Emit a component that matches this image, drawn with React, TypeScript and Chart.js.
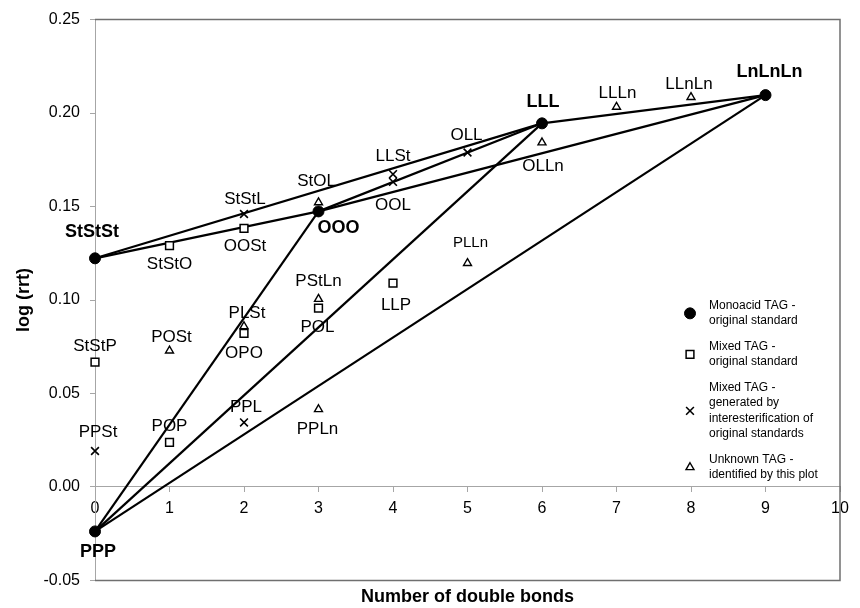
import { useEffect, useRef } from 'react';
import { Chart, registerables } from 'chart.js';
import { drawPoint } from 'chart.js/helpers';

Chart.register(...registerables);

// ---------- DATA ----------
const monoNames = ['PPP', 'StStSt', 'OOO', 'LLL', 'LnLnLn'];
const monoX = [0, 0, 3, 6, 9];
const monoY = [-0.0238, 0.1223, 0.1474, 0.1945, 0.2096];

const mixedNames = ['StStP', 'StStO', 'OOSt', 'POP', 'OPO', 'POL', 'LLP'];
const mixedX = [0, 1, 2, 1, 2, 3, 4];
const mixedY = [0.0668, 0.1291, 0.1383, 0.0238, 0.0822, 0.0957, 0.109];

const interNames = ['PPSt', 'StStL', 'PPL', 'LLSt', 'OOL', 'OLL'];
const interX = [0, 2, 2, 4, 4, 5];
const interY = [0.0192, 0.146, 0.0345, 0.1673, 0.1632, 0.1789];

const unknownNames = ['POSt', 'PLSt', 'StOL', 'PStLn', 'PPLn', 'PLLn', 'OLLn', 'LLLn', 'LLnLn'];
const unknownX = [1, 2, 3, 3, 3, 5, 6, 7, 8];
const unknownY = [0.0729, 0.0859, 0.1522, 0.1005, 0.0415, 0.1197, 0.1842, 0.2033, 0.2085];

const tieLines: [string, string][] = [
  ['StStSt', 'LLL'],
  ['StStSt', 'OOO'],
  ['OOO', 'LLL'],
  ['OOO', 'LnLnLn'],
  ['LLL', 'LnLnLn'],
  ['PPP', 'OOO'],
  ['PPP', 'LLL'],
  ['PPP', 'LnLnLn'],
];

const xTickMin = 0;
const xTickMax = 10;
const yTickMin = -0.05;
const yTickMax = 0.25;
const yTickStep = 0.05;

const xTitle = 'Number of double bonds';
const yTitle = 'log (rrt)';

const legendTexts = [
  ['Monoacid TAG -', 'original standard'],
  ['Mixed TAG -', 'original standard'],
  ['Mixed TAG -', 'generated by', 'interesterification of', 'original standards'],
  ['Unknown TAG -', 'identified by this plot'],
];

// ---------- LABEL PLACEMENT (pixel offsets from point) ----------
const labelOffsets: Record<string, [number, number]> = {
  PPP: [3, 21],
  StStSt: [-3, -26],
  OOO: [20, 17],
  LLL: [1, -21],
  LnLnLn: [4, -23],
  StStP: [0, -16],
  StStO: [0, 19],
  OOSt: [1, 18],
  POP: [0, -16],
  OPO: [0, 20],
  POL: [-1, 19],
  LLP: [3, 22],
  PPSt: [3, -19],
  StStL: [1, -15],
  PPL: [2, -15],
  LLSt: [0, -18],
  OOL: [0, 23],
  OLL: [-1, -17],
  POSt: [2, -13],
  PLSt: [3, -13],
  StOL: [-2, -21],
  PStLn: [0, -18],
  PPLn: [-1, 20],
  PLLn: [3, -20],
  OLLn: [1, 24],
  LLLn: [1, -14],
  LLnLn: [-2, -13],
};

const FONT = '"Liberation Sans", Arial, Helvetica, sans-serif';

const toPoints = (names: string[], xs: number[], ys: number[]) =>
  names.map((n, i) => ({ x: xs[i], y: ys[i], name: n }));

const monoPts = toPoints(monoNames, monoX, monoY);
const mixedPts = toPoints(mixedNames, mixedX, mixedY);
const interPts = toPoints(interNames, interX, interY);
const unknownPts = toPoints(unknownNames, unknownX, unknownY);

const findMono = (n: string) => monoPts.find((p) => p.name === n)!;

const markerStyles = [
  { pointStyle: 'circle', radius: 5.5, borderWidth: 1, fill: '#000' },
  { pointStyle: 'rect', radius: 5.5, borderWidth: 1.5, fill: '#fff' },
  { pointStyle: 'crossRot', radius: 5.5, borderWidth: 1.6, fill: '#fff' },
  { pointStyle: 'triangle', radius: 4.6, borderWidth: 1.4, fill: '#fff' },
];

const pointLabelPlugin = {
  id: 'pointLabels',
  afterDatasetsDraw(chart: any) {
    const { ctx } = chart;
    const xs = chart.scales.x;
    const ys = chart.scales.y;
    ctx.save();
    ctx.fillStyle = '#000';
    ctx.textAlign = 'center';
    ctx.textBaseline = 'middle';
    chart.data.datasets.forEach((ds: any) => {
      if (!ds.isMarkers) return;
      ds.data.forEach((p: any) => {
        const off = labelOffsets[p.name] || [0, -15];
        const bold = ds.boldLabels;
        const size = bold ? 18 : p.name === 'PLLn' ? 15 : 17;
        ctx.font = `${bold ? 'bold ' : ''}${size}px ${FONT}`;
        ctx.fillText(p.name, xs.getPixelForValue(p.x) + off[0], ys.getPixelForValue(p.y) + off[1]);
      });
    });
    ctx.restore();
  },
};

const framePlugin = {
  id: 'plotFrame',
  beforeDatasetsDraw(chart: any) {
    const { ctx, chartArea: a } = chart;
    ctx.save();
    ctx.strokeStyle = '#6f6f6f';
    ctx.lineWidth = 1.5;
    ctx.beginPath();
    ctx.moveTo(a.left, a.top);
    ctx.lineTo(a.right, a.top);
    ctx.lineTo(a.right, a.bottom);
    ctx.lineTo(a.left, a.bottom);
    ctx.stroke();
    ctx.restore();
  },
};

const legendPlugin = {
  id: 'insideLegend',
  afterDraw(chart: any) {
    const { ctx, chartArea: a } = chart;
    const markerX = a.right - 150;
    const textX = a.right - 131;
    const lineH = 15.5;
    const gap = 25.5;
    let y = a.top + 286;
    ctx.save();
    ctx.font = `12px ${FONT}`;
    ctx.textAlign = 'left';
    ctx.textBaseline = 'middle';
    legendTexts.forEach((lines, i) => {
      const st = markerStyles[i];
      const first = y;
      lines.forEach((t) => {
        ctx.fillStyle = '#000';
        ctx.fillText(t, textX, y);
        y += lineH;
      });
      const last = y - lineH;
      const my = (first + last) / 2;
      ctx.fillStyle = st.fill;
      ctx.strokeStyle = '#000';
      ctx.lineWidth = st.borderWidth;
      drawPoint(ctx, { pointStyle: st.pointStyle as any, radius: st.radius, rotation: 0, borderWidth: st.borderWidth }, markerX, my);
      y = last + gap;
    });
    ctx.restore();
  },
};

export default function App() {
  const canvasRef = useRef<HTMLCanvasElement | null>(null);

  useEffect(() => {
    if (!canvasRef.current) return;
    Chart.defaults.font.family = FONT;

    const lineDatasets = tieLines.map(([a, b]) => {
      const pa = findMono(a);
      const pb = findMono(b);
      return {
        type: 'scatter' as const,
        label: `${a}-${b}`,
        data: [
          { x: pa.x, y: pa.y },
          { x: pb.x, y: pb.y },
        ],
        showLine: true,
        borderColor: '#000',
        borderWidth: 2.2,
        pointRadius: 0,
        pointHoverRadius: 0,
        clip: false as any,
        order: 5,
      };
    });

    const markerSet = (label: string, pts: any[], idx: number, bold: boolean, order: number) => {
      const st = markerStyles[idx];
      return {
        type: 'scatter' as const,
        label,
        data: pts,
        pointStyle: st.pointStyle,
        pointRadius: st.radius,
        pointHoverRadius: st.radius,
        pointBorderWidth: st.borderWidth,
        pointBackgroundColor: st.fill,
        pointBorderColor: '#000',
        backgroundColor: st.fill,
        borderColor: '#000',
        showLine: false,
        clip: false as any,
        order,
        isMarkers: true,
        boldLabels: bold,
      } as any;
    };

    const chart = new Chart(canvasRef.current, {
      type: 'scatter',
      data: {
        datasets: [
          ...lineDatasets,
          markerSet('Mixed TAG - original standard', mixedPts, 1, false, 3),
          markerSet('Mixed TAG - generated by interesterification of original standards', interPts, 2, false, 3),
          markerSet('Unknown TAG - identified by this plot', unknownPts, 3, false, 3),
          markerSet('Monoacid TAG - original standard', monoPts, 0, true, 1),
        ] as any,
      },
      options: {
        responsive: false,
        animation: false,
        devicePixelRatio: 1,
        layout: { padding: { top: 18, right: 20, left: 0, bottom: 0 } },
        events: [],
        plugins: {
          legend: { display: false },
          tooltip: { enabled: false },
          title: {
            display: true,
            text: xTitle,
            position: 'bottom',
            fullSize: false,
            color: '#000',
            font: { family: FONT, size: 18, weight: 'bold' },
            padding: { top: 6, bottom: 0 },
          },
        },
        scales: {
          x: {
            type: 'linear',
            position: { y: 0 } as any,
            min: xTickMin,
            max: xTickMax,
            ticks: {
              stepSize: 1,
              color: '#000',
              font: { family: FONT, size: 16 },
              padding: 7,
              maxRotation: 0,
            },
            grid: {
              display: true,
              drawOnChartArea: false,
              drawTicks: true,
              tickLength: 5,
              color: '#a6a6a6',
            },
            border: { display: true, color: '#a6a6a6', width: 1 },
          },
          y: {
            type: 'linear',
            position: 'left',
            min: yTickMin,
            max: yTickMax,
            afterFit: (scale: any) => {
              scale.width = 95;
            },
            ticks: {
              stepSize: yTickStep,
              color: '#000',
              font: { family: FONT, size: 16 },
              padding: 10,
              callback: (v: any) => {
                const n = Number(v);
                return (Math.abs(n) < 1e-9 ? 0 : n).toFixed(2);
              },
            },
            grid: {
              display: true,
              drawOnChartArea: false,
              drawTicks: true,
              tickLength: 5,
              color: '#a6a6a6',
            },
            border: { display: true, color: '#a6a6a6', width: 1 },
            title: {
              display: true,
              text: yTitle,
              color: '#000',
              font: { family: FONT, size: 18, weight: 'bold' },
              padding: { top: 13, bottom: 0 },
            },
          },
        },
      },
      plugins: [framePlugin, pointLabelPlugin, legendPlugin],
    });

    return () => chart.destroy();
  }, []);

  return (
    <div style={{ position: 'fixed', left: 0, top: 0, width: 860, height: 608, background: '#fff' }}>
      <canvas ref={canvasRef} width={860} height={608} style={{ display: 'block' }} />
    </div>
  );
}
